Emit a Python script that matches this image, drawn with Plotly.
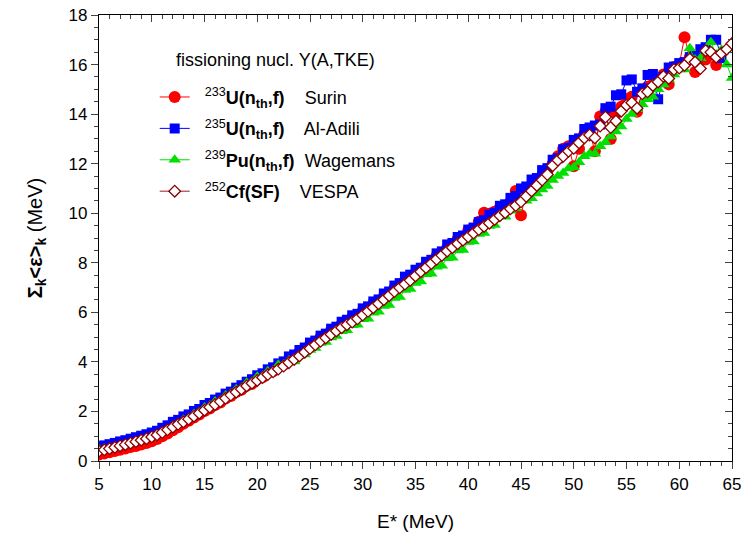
import plotly.graph_objects as go

# energie d'excitation E* (MeV), pas de 0.5 MeV
energy = [
    5.0, 5.5, 6.0, 6.5, 7.0, 7.5, 8.0, 8.5, 9.0, 9.5,
    10.0, 10.5, 11.0, 11.5, 12.0, 12.5, 13.0, 13.5, 14.0, 14.5,
    15.0, 15.5, 16.0, 16.5, 17.0, 17.5, 18.0, 18.5, 19.0, 19.5,
    20.0, 20.5, 21.0, 21.5, 22.0, 22.5, 23.0, 23.5, 24.0, 24.5,
    25.0, 25.5, 26.0, 26.5, 27.0, 27.5, 28.0, 28.5, 29.0, 29.5,
    30.0, 30.5, 31.0, 31.5, 32.0, 32.5, 33.0, 33.5, 34.0, 34.5,
    35.0, 35.5, 36.0, 36.5, 37.0, 37.5, 38.0, 38.5, 39.0, 39.5,
    40.0, 40.5, 41.0, 41.5, 42.0, 42.5, 43.0, 43.5, 44.0, 44.5,
    45.0, 45.5, 46.0, 46.5, 47.0, 47.5, 48.0, 48.5, 49.0, 49.5,
    50.0, 50.5, 51.0, 51.5, 52.0, 52.5, 53.0, 53.5, 54.0, 54.5,
    55.0, 55.5, 56.0, 56.5, 57.0, 57.5, 58.0, 58.5, 59.0, 59.5,
    60.0, 60.5, 61.0, 61.5, 62.0, 62.5, 63.0, 63.5, 64.0, 64.5,
    65.0,
]

# somme des energies moyennes <eps>_k (MeV)
u233_surin = [
    0.26, 0.30, 0.35, 0.40, 0.45, 0.50, 0.56, 0.61, 0.67, 0.73,
    0.80, 0.89, 1.00, 1.11, 1.24, 1.36, 1.50, 1.62, 1.76, 1.88,
    2.02, 2.12, 2.26, 2.36, 2.52, 2.62, 2.78, 2.88, 3.04, 3.12,
    3.30, 3.38, 3.56, 3.62, 3.82, 3.88, 4.10, 4.16, 4.40, 4.44,
    4.70, 4.76, 5.00, 5.04, 5.28, 5.32, 5.52, 5.56, 5.80, 5.82,
    6.06, 6.10, 6.36, 6.40, 6.64, 6.70, 6.98, 7.02, 7.28, 7.30,
    7.56, 7.62, 7.92, 7.96, 8.28, 8.30, 8.60, 8.64, 8.96, 9.00,
    9.30, 9.34, 9.66, 10.02, 9.98, 10.06, 10.22, 10.30, 10.46, 10.90,
    9.92, 10.90, 11.10, 11.30, 11.52, 11.70, 12.00, 12.30, 12.60, 12.70,
    11.90, 12.60, 13.20, 13.30, 12.50, 13.90, 14.10, 13.00, 14.00, 14.30,
    14.60, 14.70, 14.10, 14.90, 15.10, 15.20, 15.40, 15.60, 15.20, 15.90,
    16.00, 17.10, 16.30, 15.70, 16.30, 16.20, 16.40, 15.98,
]

u235_aladili = [
    0.58, 0.63, 0.68, 0.73, 0.79, 0.84, 0.90, 0.96, 1.02, 1.08,
    1.15, 1.22, 1.34, 1.44, 1.58, 1.66, 1.80, 1.88, 2.02, 2.10,
    2.26, 2.34, 2.48, 2.56, 2.72, 2.80, 2.96, 3.06, 3.20, 3.30,
    3.46, 3.54, 3.70, 3.78, 3.94, 4.02, 4.22, 4.30, 4.48, 4.58,
    4.78, 4.86, 5.06, 5.14, 5.34, 5.42, 5.62, 5.70, 5.88, 5.94,
    6.16, 6.24, 6.44, 6.52, 6.76, 6.84, 7.08, 7.18, 7.44, 7.52,
    7.72, 7.80, 8.04, 8.12, 8.38, 8.46, 8.74, 8.80, 9.04, 9.10,
    9.34, 9.42, 9.64, 9.72, 9.94, 10.02, 10.30, 10.36, 10.62, 10.70,
    11.00, 11.08, 11.36, 11.42, 11.74, 11.82, 12.16, 12.22, 12.58, 12.64,
    12.96, 13.02, 13.40, 13.46, 13.54, 13.58, 14.24, 14.30, 14.76, 14.80,
    15.36, 15.40, 14.90, 15.04, 15.58, 15.62, 14.60, 15.50, 15.88, 15.92,
    16.06, 16.10, 16.30, 16.36, 16.62, 16.70, 17.00, 17.00, 16.26,
]

pu239_wagemans = [
    0.48, 0.50, 0.55, 0.58, 0.63, 0.67, 0.72, 0.77, 0.83, 0.88,
    0.95, 1.03, 1.16, 1.26, 1.42, 1.50, 1.66, 1.74, 1.90, 1.98,
    2.16, 2.24, 2.40, 2.46, 2.64, 2.72, 2.90, 2.96, 3.16, 3.20,
    3.40, 3.44, 3.62, 3.66, 3.88, 3.90, 4.06, 4.02, 4.26, 4.30,
    4.48, 4.56, 4.76, 4.80, 4.98, 5.04, 5.24, 5.28, 5.48, 5.50,
    5.72, 5.74, 5.98, 6.02, 6.26, 6.30, 6.58, 6.62, 6.90, 6.94,
    7.18, 7.24, 7.54, 7.56, 7.84, 7.88, 8.18, 8.20, 8.50, 8.52,
    8.84, 8.86, 9.16, 9.20, 9.48, 9.52, 9.90, 9.86, 10.10, 10.20,
    10.50, 10.50, 10.60, 10.80, 10.96, 11.10, 11.34, 11.50, 11.62, 11.80,
    11.86, 12.06, 12.30, 12.40, 12.40, 12.70, 12.86, 13.10, 13.30, 13.50,
    13.80, 14.00, 14.20, 14.40, 14.60, 14.70, 15.00, 15.20, 15.40, 15.60,
    15.80, 15.80, 16.66, 16.20, 16.25, 16.60, 16.90, 16.40, 16.60, 16.00,
    15.46,
]

cf252_vespa = [
    0.40, 0.45, 0.50, 0.55, 0.61, 0.66, 0.72, 0.78, 0.84, 0.90,
    0.97, 1.05, 1.15, 1.26, 1.37, 1.48, 1.58, 1.69, 1.81, 1.93,
    2.05, 2.17, 2.28, 2.40, 2.53, 2.66, 2.78, 2.90, 3.03, 3.14,
    3.25, 3.37, 3.49, 3.60, 3.71, 3.83, 3.97, 4.10, 4.24, 4.39,
    4.54, 4.69, 4.83, 4.97, 5.11, 5.25, 5.38, 5.50, 5.61, 5.74,
    5.89, 6.04, 6.19, 6.35, 6.51, 6.67, 6.84, 6.99, 7.14, 7.29,
    7.47, 7.64, 7.80, 7.97, 8.14, 8.30, 8.47, 8.61, 8.77, 8.91,
    9.05, 9.20, 9.34, 9.47, 9.60, 9.75, 9.90, 10.02, 10.18, 10.31,
    10.46, 10.68, 10.90, 11.12, 11.34, 11.56, 11.92, 12.14, 12.30, 12.50,
    12.62, 12.84, 13.04, 13.16, 13.04, 13.52, 13.88, 13.46, 13.72, 14.12,
    14.36, 14.46, 14.24, 14.82, 14.90, 15.16, 15.30, 15.52, 15.44, 15.80,
    15.86, 15.97, 16.22, 16.10, 15.84, 16.56, 16.50, 16.30, 16.46, 16.62,
    16.85,
]

pad = "&nbsp;&nbsp;"
series = [
    (pad + "<sup>233</sup><b>U(n<sub>th</sub>,f)</b>    Surin", u233_surin,
     "red", dict(symbol="circle", size=12, color="red")),
    (pad + "<sup>235</sup><b>U(n<sub>th</sub>,f)</b>    Al-Adili", u235_aladili,
     "blue", dict(symbol="square", size=10, color="blue")),
    (pad + "<sup>239</sup><b>Pu(n<sub>th</sub>,f)</b>  Wagemans", pu239_wagemans,
     "#00e000", dict(symbol="triangle-up", size=11, color="#00e000")),
    (pad + "<sup>252</sup><b>Cf(SF)</b>    VESPA", cf252_vespa,
     "#9b1b1b", dict(symbol="diamond", size=9, color="white",
                     line=dict(color="#8b0000", width=1.3))),
]

fig = go.Figure()
for i, (name, vals, col, mk) in enumerate(series):
    fig.add_trace(go.Scatter(
        x=energy[:len(vals)], y=vals, mode="lines+markers", name=name,
        legendgroup=f"g{i}",
        line=dict(color=col, width=1), marker=mk,
    ))

# axes miroirs (haut / droite) avec graduations vers l'interieur
fig.add_trace(go.Scatter(x=[None], y=[None], xaxis="x2", yaxis="y2",
                         showlegend=False, hoverinfo="skip"))

font = "Arial, Liberation Sans, sans-serif"
fig.update_layout(
    width=751, height=538,
    margin=dict(l=99, r=19, t=15, b=77),
    paper_bgcolor="white", plot_bgcolor="white",
    font=dict(family=font, size=17, color="black"),
    showlegend=True,
    legend=dict(
        x=0.088, y=0.857, xanchor="left", yanchor="top",
        bgcolor="rgba(0,0,0,0)", font=dict(size=18),
        tracegroupgap=5,
    ),
    annotations=[dict(
        text="fissioning nucl. Y(A,TKE)", xref="paper", yref="paper",
        x=0.119, y=0.899, xanchor="left", yanchor="middle",
        showarrow=False, font=dict(size=18),
    )],
    xaxis=dict(
        range=[5, 65], tick0=5, dtick=5, ticks="outside", ticklen=7,
        tickwidth=1.3, showline=True, linecolor="black", linewidth=1.3,
        showgrid=False, zeroline=False, automargin=False,
        ticklabeloverflow="allow",
        minor=dict(dtick=1, ticks="outside", ticklen=4, tickwidth=1.3),
        title=dict(text="E* (MeV)", font=dict(size=19), standoff=22),
    ),
    yaxis=dict(
        range=[0, 18.0001], tickvals=[0, 2, 4, 6, 8, 10, 12, 14, 16, 18],
        ticks="outside", ticklen=7, tickwidth=1.3,
        showline=True, linecolor="black", linewidth=1.3,
        showgrid=False, zeroline=False, automargin=False,
        ticklabeloverflow="allow",
        minor=dict(dtick=0.5, ticks="outside", ticklen=4, tickwidth=1.3),
        title=dict(text="<b>\u03a3<sub>k</sub>&lt;\u03b5&gt;<sub>k</sub></b> (MeV)",
                   font=dict(size=20), standoff=20),
    ),
    xaxis2=dict(
        range=[5, 65], overlaying="x", side="top", tick0=5, dtick=5,
        ticks="inside", ticklen=7, tickwidth=1.3, showticklabels=False,
        showline=True, linecolor="black", linewidth=1.3, showgrid=False,
        zeroline=False, automargin=False,
        minor=dict(dtick=1, ticks="inside", ticklen=4, tickwidth=1.3),
    ),
    yaxis2=dict(
        range=[0, 18.0001], overlaying="y", side="right", dtick=2,
        ticks="inside", ticklen=7, tickwidth=1.3, showticklabels=False,
        showline=True, linecolor="black", linewidth=1.3, showgrid=False,
        zeroline=False, automargin=False,
        minor=dict(dtick=0.5, ticks="inside", ticklen=4, tickwidth=1.3),
    ),
)

# supprime la marge par defaut du <body> pour caler le graphique en (0, 0)
fig.write_html("out.html", config={"displayModeBar": False},
               post_script="document.body.style.margin='0';")
